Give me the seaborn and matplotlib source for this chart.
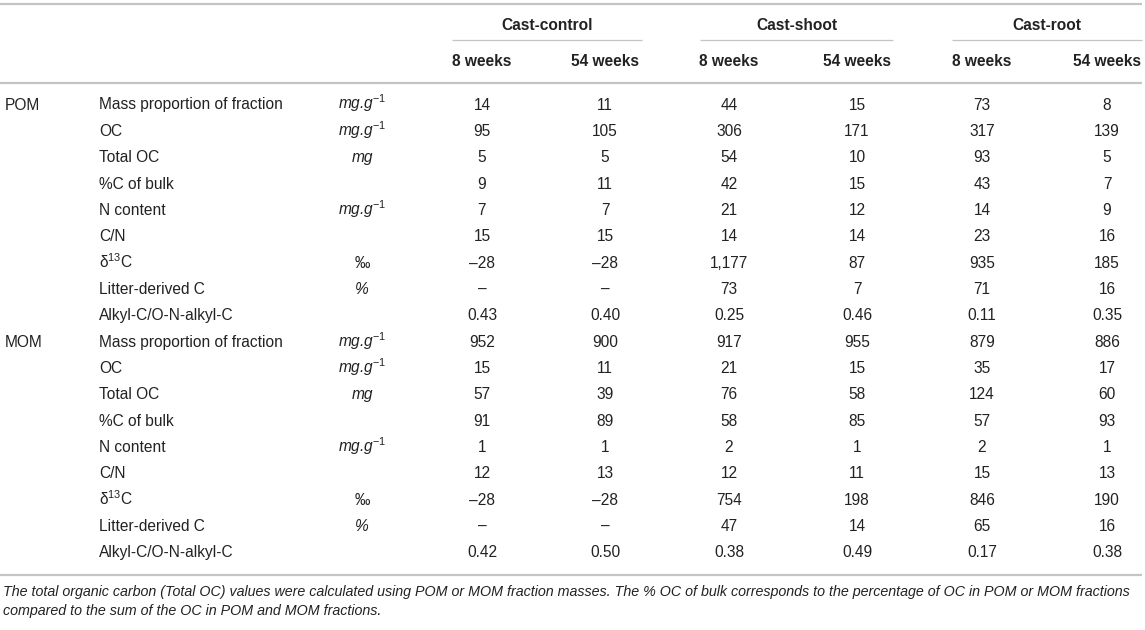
import matplotlib
matplotlib.use("Agg")
import matplotlib.pyplot as plt
import seaborn as sns
import pandas as pd

# Datos de la tabla
fractions = ["POM", "MOM"]
properties = ["Mass proportion of fraction", "OC", "Total OC", "%C of bulk", "N content",
              "C/N", "δ$^{\\mathrm{13}}$C", "Litter-derived C", "Alkyl-C/O-N-alkyl-C"]
units = ["mg.g$^{\\mathrm{-1}}$", "mg.g$^{\\mathrm{-1}}$", "mg", "", "mg.g$^{\\mathrm{-1}}$",
         "", "‰", "%", ""]
treatments = ["Cast-control", "Cast-shoot", "Cast-root"]
times = ["8 weeks", "54 weeks"]

# columnas: control 8, control 54, shoot 8, shoot 54, root 8, root 54
pom_values = [
    [14, 11, 44, 15, 73, 8],
    [95, 105, 306, 171, 317, 139],
    [5, 5, 54, 10, 93, 5],
    [9, 11, 42, 15, 43, 7],
    [7, 7, 21, 12, 14, 9],
    [15, 15, 14, 14, 23, 16],
    [-28, -28, 1177, 87, 935, 185],
    [None, None, 73, 7, 71, 16],
    [0.43, 0.40, 0.25, 0.46, 0.11, 0.35],
]
mom_values = [
    [952, 900, 917, 955, 879, 886],
    [15, 11, 21, 15, 35, 17],
    [57, 39, 76, 58, 124, 60],
    [91, 89, 58, 85, 57, 93],
    [1, 1, 2, 1, 2, 1],
    [12, 13, 12, 11, 15, 13],
    [-28, -28, 754, 198, 846, 190],
    [None, None, 47, 14, 65, 16],
    [0.42, 0.50, 0.38, 0.49, 0.17, 0.38],
]
footnote = ["The total organic carbon (Total OC) values were calculated using POM or MOM fraction masses. "
            "The % OC of bulk corresponds to the percentage of OC in POM or MOM fractions",
            "compared to the sum of the OC in POM and MOM fractions."]


def fmt(v):
    # formato de celda como en la tabla original
    if v is None or pd.isna(v):
        return "–"
    if isinstance(v, float):
        s = f"{abs(v):.2f}"
    else:
        s = f"{abs(int(v)):,}"
    return ("–" + s) if v < 0 else s


# Construir DataFrame largo
rows = []
for frac, vals in zip(fractions, [pom_values, mom_values]):
    for prop, unit, row in zip(properties, units, vals):
        rows.append([frac, prop, unit] + row)
cols = [f"{t}|{w}" for t in treatments for w in times]
df = pd.DataFrame(rows, columns=["fraction", "property", "unit"] + cols, dtype=object)

sns.set_theme(style="white")
plt.rcParams["font.family"] = ["Liberation Sans", "DejaVu Sans"]
plt.rcParams["mathtext.fontset"] = "custom"
plt.rcParams["mathtext.rm"] = "Liberation Sans"
plt.rcParams["mathtext.it"] = "Liberation Sans:italic"

fig = plt.figure(figsize=(11.45, 6.3), dpi=100)
ax = fig.add_axes([0, 0, 1, 1])
ax.set_xlim(0, 1145)
ax.set_ylim(630, 0)
ax.axis("off")

txt = "#222222"
fs = 11.2
col_x = [482, 605, 729, 857, 982, 1107]
group_span = [(452, 642), (700, 893), (952, 1142)]
row_y0, row_dy = 104, 26.35
off = 5.5  # centro -> linea base

# lineas horizontales
for y in [3.5, 82.5, 574.5]:
    ax.plot([0, 1142], [y, y], color="#c4c4c4", lw=1.6, solid_capstyle="butt")
for (x0, x1) in group_span:
    ax.plot([x0, x1], [40, 40], color="#c4c4c4", lw=0.9, solid_capstyle="butt")

# encabezados
for t, (x0, x1) in zip(treatments, group_span):
    ax.text((x0 + x1) / 2, 24 + off, t, ha="center", va="baseline", fontsize=fs,
            fontweight="bold", color=txt)
for i, c in enumerate(cols):
    ax.text(col_x[i], 60 + off, c.split("|")[1], ha="center", va="baseline", fontsize=fs,
            fontweight="bold", color=txt)

# cuerpo
for r, rec in df.iterrows():
    y = row_y0 + r * row_dy + off
    if r % len(properties) == 0:
        ax.text(5, y, rec["fraction"], ha="left", va="baseline", fontsize=fs, color=txt)
    ax.text(99, y, rec["property"], ha="left", va="baseline", fontsize=fs, color=txt)
    if rec["unit"]:
        estilo = "normal" if rec["unit"] == "‰" else "italic"
        ax.text(362, y, rec["unit"], ha="center", va="baseline", fontsize=fs, color=txt,
                style=estilo)
    for i, c in enumerate(cols):
        ax.text(col_x[i], y, fmt(rec[c]), ha="center", va="baseline", fontsize=fs, color=txt)

# nota al pie
for k, line in enumerate(footnote):
    ax.text(3, 591 + 19.5 * k + 5, line, ha="left", va="baseline", fontsize=10.3,
            style="italic", color=txt)

fig.savefig("out.png", dpi=100)
plt.close(fig)
